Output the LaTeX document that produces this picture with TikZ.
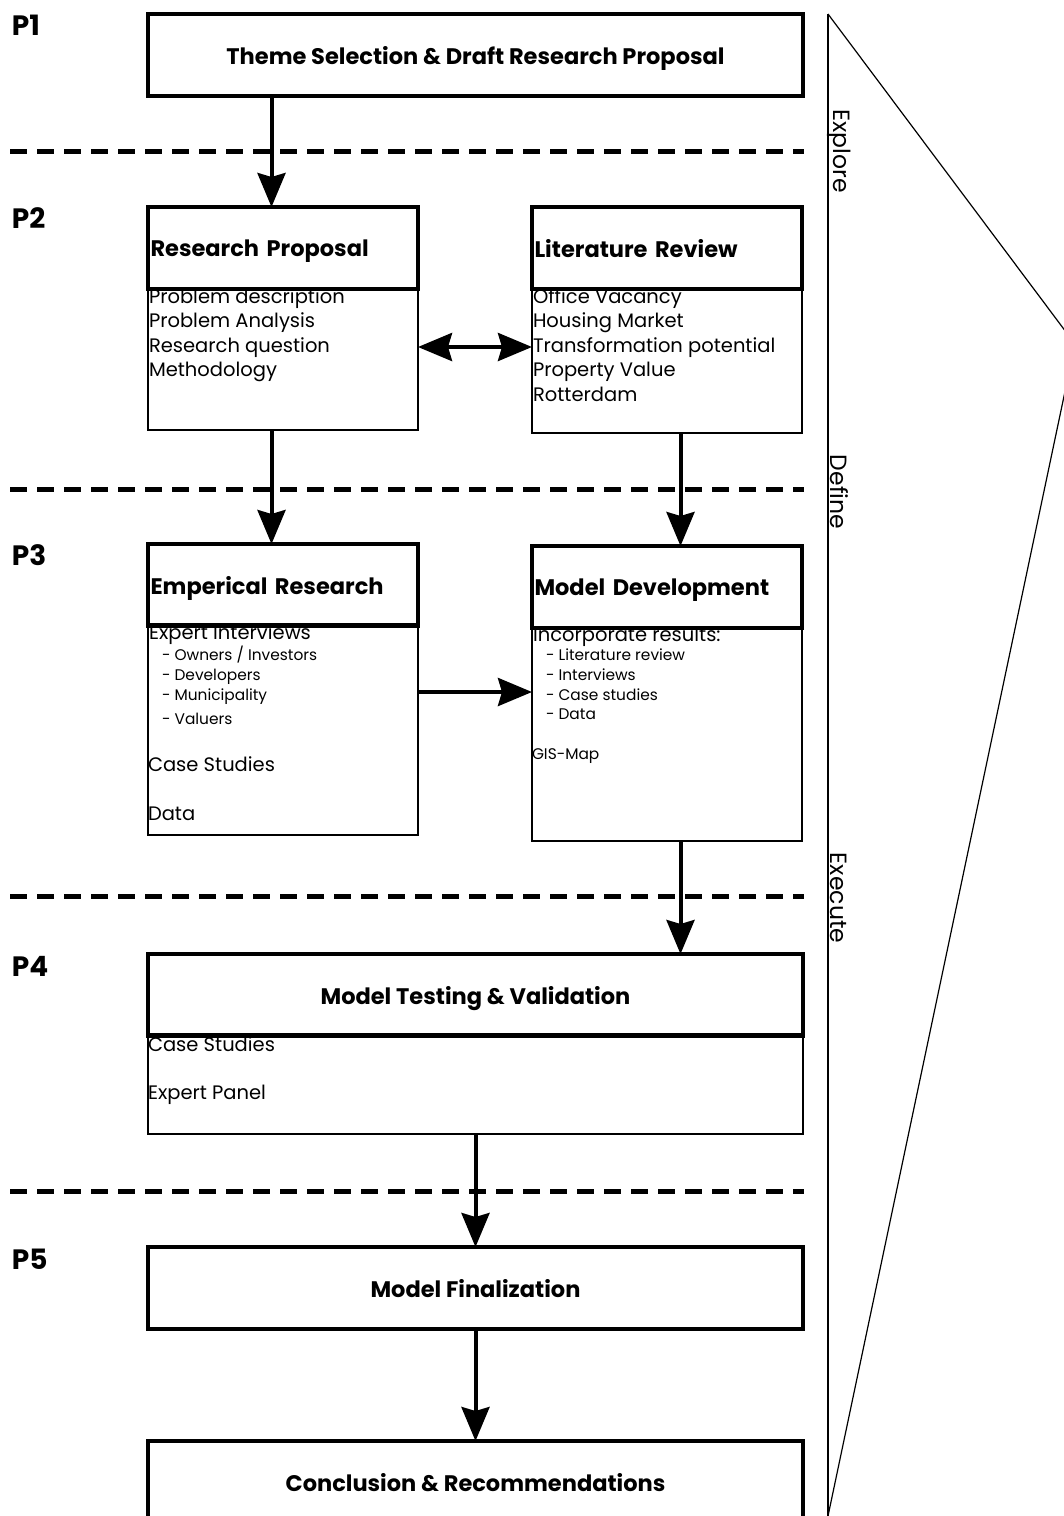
\documentclass[tikz,border=0pt]{standalone}
\usepackage{fontspec}
\setmainfont{Poppins}
\usetikzlibrary{positioning, arrows.meta}

\begin{document}
\begin{tikzpicture}[x=1pt, y=-1pt, outer sep=0pt,
  >={Stealth[length=34pt, width=28pt, inset=4pt]},
  phase/.style={font=\bfseries\fontsize{28}{32}\selectfont, inner sep=0pt, anchor=north west},
  head/.style={draw, line width=3.5pt, inner sep=0pt, minimum height=82pt, text depth=0pt, font=\bfseries\fontsize{22.5}{26}\selectfont},
  widehead/.style={head, minimum width=655pt, anchor=north west},
  sidehead/.style={head, minimum width=270pt, text width=265pt, align=left, anchor=north west},
  bodybox/.style={draw, line width=1.5pt, inner sep=0pt, minimum width=#1, anchor=north west},
  bodytext/.style={font=\fontsize{19.5}{24.5}\selectfont, inner sep=0pt, align=left, anchor=north west},
  subtext/.style={font=\fontsize{15.4}{19.7}\selectfont, inner sep=0pt, align=left, anchor=north west},
  flow/.style={->, line width=4pt},
  divider/.style={line width=5pt, dash pattern=on 17pt off 10pt},
  stage/.style={font=\fontsize{23.5}{26}\selectfont, rotate=-90, inner sep=0pt}]

  \useasboundingbox (0,0) rectangle (1064,1516);
  \clip (0,0) rectangle (1064,1516);

  % Phase labels
  \node[phase] (p1) at (12,15) {P1};
  \node[phase] (p2) at (12,208) {P2};
  \node[phase] (p3) at (12,545) {P3};
  \node[phase] (p4) at (12,956) {P4};
  \node[phase] (p5) at (12,1249) {P5};

  % Phase borders
  \foreach \y in {151,489,896,1191}
    \draw[divider] (10,\y) -- (804,\y);

  % P1
  \node[widehead] (theme) at (148,14) {Theme Selection \& Draft Research Proposal};

  % P2: research proposal
  \node[bodybox=270pt, minimum height=142pt] (rp-body) at (148,288) {};
  \node[bodytext] (rp-text) at ([xshift=1pt, yshift=-0.5pt]rp-body.north west)
    {Problem description\\Problem Analysis\\Research question\\Methodology};
  \node[sidehead] (rp-head) at (148,207) {Research Proposal};

  % P2: literature review
  \node[bodybox=270pt, minimum height=145pt] (lit-body) at (532,288) {};
  \node[bodytext] (lit-text) at ([xshift=1pt, yshift=-0.5pt]lit-body.north west)
    {Office Vacancy\\Housing Market\\Transformation potential\\Property Value\\Rotterdam};
  \node[sidehead] (lit-head) at (532,207) {Literature Review};

  % P3: empirical research
  \node[bodybox=270pt, minimum height=211pt] (er-body) at (148,624) {};
  \node[bodytext] (er-int) at ([xshift=1pt, yshift=-0.5pt]er-body.north west) {Expert Interviews};
  \node[subtext] (er-sub) at ([xshift=13pt, yshift=-2pt]er-int.south west)
    {- Owners / Investors\\- Developers\\- Municipality\\[4pt]- Valuers};
  \node[bodytext, anchor=base west] (er-case) at (148,771) {Case Studies};
  \node[bodytext, anchor=base west] (er-data) at (148,820) {Data};
  \node[sidehead] (er-head) at (148,544) {Emperical Research};

  % P3: model development
  \node[bodybox=270pt, minimum height=214pt] (md-body) at (532,627) {};
  \node[bodytext] (md-inc) at ([xshift=1pt, yshift=-0.5pt]md-body.north west) {Incorporate results:};
  \node[subtext] (md-sub) at ([xshift=13pt, yshift=-2pt]md-inc.south west)
    {- Literature review\\- Interviews\\- Case studies\\- Data};
  \node[subtext, anchor=base west] (md-gis) at (532,759) {GIS-Map};
  \node[sidehead] (md-head) at (532,546) {Model Development};

  % P4
  \node[bodybox=655pt, minimum height=100pt] (mt-body) at (148,1034) {};
  \node[bodytext, anchor=base west] (mt-case) at (148,1051) {Case Studies};
  \node[bodytext, anchor=base west] (mt-panel) at (148,1099) {Expert Panel};
  \node[widehead] (mt-head) at (148,954) {Model Testing \& Validation};

  % P5
  \node[widehead] (mf) at (148,1247) {Model Finalization};
  \node[widehead] (cr) at (148,1441) {Conclusion \& Recommendations};

  % Forward connections
  \draw[flow] ([xshift=-11.5pt]rp-head.north |- theme.south) -- ([xshift=-11.5pt]rp-head.north);
  \draw[flow] ([xshift=-11.5pt]rp-head.north |- rp-body.south) -- ([xshift=-11.5pt]er-head.north);
  \draw[flow] ([xshift=13.5pt]lit-head.north |- lit-body.south) -- ([xshift=13.5pt]md-head.north);
  \draw[flow] ([xshift=13.5pt]md-head.north |- md-body.south) -- ([xshift=13.5pt]md-head.north |- mt-head.north);
  \draw[flow] (mt-body.south) -- (mf.north);
  \draw[flow] (mf.south) -- (cr.north);

  % Side connections
  \draw[flow, <->] ([yshift=12pt]rp-body.east) -- ([yshift=12pt]rp-body.east -| lit-body.west);
  \draw[flow] ([yshift=37.5pt]er-body.east) -- ([yshift=37.5pt]er-body.east -| md-body.west);

  % Stages
  \draw[line width=1.5pt] (828,14) -- (828,1516);
  \draw[line width=1.2pt] (828,14) -- (1075,344) -- (828,1516);
  \node[stage] (explore) at (839,151) {Explore};
  \node[stage] (define) at (839,492) {Define};
  \node[stage] (execute) at (839,898) {Execute};

\end{tikzpicture}
\end{document}
